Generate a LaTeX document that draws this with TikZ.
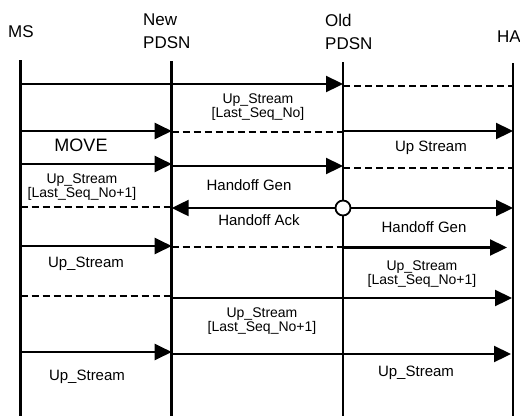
\documentclass[tikz,border=0pt]{standalone}
\usepackage{fontspec}
\setmainfont{Liberation Sans}
\usetikzlibrary{arrows.meta}
\begin{document}
\begin{tikzpicture}[x=1pt,y=-1pt,
 life/.style={line width=2.5pt},
 msg/.style={line width=2.3pt,-{Triangle[length=17pt,width=16pt]}},
 dsh/.style={line width=1.5pt,dash pattern=on 7pt off 4pt},
 lbl/.style={font=\fontsize{15}{15}\selectfont,inner sep=0pt},
 lbltwo/.style={font=\fontsize{14}{14.5}\selectfont,align=center,inner sep=0pt},
 hdr/.style={font=\fontsize{17}{23}\selectfont,align=left,inner sep=0pt},
 junction/.style={circle,draw,fill=white,line width=1.8pt,minimum size=15pt,inner sep=0pt}]
\useasboundingbox (0,0) rectangle (520,416);
% headers
\node[hdr,anchor=west] (hms) at (8,32) {MS};
\node[hdr,anchor=west] (hnew) at (143,31.5) {New\\PDSN};
\node[hdr,anchor=west] (hold) at (325,31.5) {Old\\PDSN};
\node[hdr,anchor=west] (hha) at (497,37) {HA};
% lifelines
\coordinate (msT) at (20.7,60); \coordinate (msB) at (20.7,416);
\coordinate (npT) at (171.7,61); \coordinate (npB) at (171.7,416);
\coordinate (opT) at (343,62); \coordinate (opB) at (343,416);
\coordinate (haT) at (513,63); \coordinate (haB) at (513,416);
\draw[life] (msT) -- (msB);
\draw[life] (npT) -- (npB);
\draw[life] (opT) -- (opB);
\draw[life] (haT) -- (haB);
% row 1
\coordinate (a1) at (20.7,84); \coordinate (c1) at (343,84);
\coordinate (c1d) at (343,86); \coordinate (d1d) at (513,86);
\draw[msg] (a1) -- (c1);
\draw[dsh] (c1d) -- (d1d);
\node[lbltwo] (l1) at (258,107) {Up\_Stream\\{[}Last\_Seq\_No{]}};
% row 2
\coordinate (a2) at (20.7,131); \coordinate (b2) at (171.7,131);
\coordinate (b2d) at (171.7,132); \coordinate (c2d) at (343,132);
\coordinate (c2) at (343,131); \coordinate (d2) at (513,131);
\draw[msg] (a2) -- (b2);
\draw[dsh] (b2d) -- (c2d);
\draw[msg] (c2) -- (d2);
\node[lbl,font=\fontsize{18}{18}\selectfont] (move) at (81,145) {MOVE};
\node[lbl] (l2) at (431,148) {Up Stream};
% row 3
\coordinate (a3) at (20.7,164); \coordinate (b3) at (171.7,164);
\coordinate (b3s) at (171.7,166); \coordinate (c3) at (343,166);
\coordinate (c3d) at (343,168); \coordinate (d3d) at (513,168);
\draw[msg] (a3) -- (b3);
\draw[msg] (b3s) -- (c3);
\draw[dsh] (c3d) -- (d3d);
\node[lbltwo] (l3) at (82,187) {Up\_Stream\\{[}Last\_Seq\_No+1{]}};
\node[lbl] (l3b) at (249,185) {Handoff Gen};
% row 4
\coordinate (a4) at (20.7,207); \coordinate (b4) at (171.7,207);
\coordinate (b4s) at (171.7,208); \coordinate (d4) at (513,208);
\node[junction] (j4) at (343,208) {};
\draw[dsh] (a4) -- (b4);
\draw[msg] (j4) -- (b4s);
\draw[msg] (j4) -- (d4);
\node[lbl] (l4) at (259,220) {Handoff Ack};
\node[lbl] (l4b) at (424,227) {Handoff Gen};
% row 5
\coordinate (a5) at (20.7,246); \coordinate (b5) at (171.7,246);
\coordinate (b5d) at (171.7,247); \coordinate (c5d) at (343,247);
\coordinate (c5) at (343,247.5); \coordinate (d5) at (507,247.5);
\draw[msg] (a5) -- (b5);
\draw[dsh] (b5d) -- (c5d);
\draw[msg] (c5) -- (d5);
\node[lbl] (l5) at (86,264) {Up\_Stream};
\node[lbltwo] (l5b) at (422,274) {Up\_Stream\\{[}Last\_Seq\_No+1{]}};
% row 6
\coordinate (a6) at (20.7,296); \coordinate (b6) at (171.7,296);
\coordinate (b6s) at (171.7,298); \coordinate (d6) at (512,298);
\draw[dsh] (a6) -- (b6);
\draw[msg] (b6s) -- (d6);
\node[lbltwo] (l6) at (262,321) {Up\_Stream\\{[}Last\_Seq\_No+1{]}};
% row 7
\coordinate (a7) at (20.7,352); \coordinate (b7) at (171.7,352);
\coordinate (b7s) at (171.7,354); \coordinate (d7) at (511,354);
\draw[msg] (a7) -- (b7);
\draw[msg] (b7s) -- (d7);
\node[lbl] (l7) at (87,377) {Up\_Stream};
\node[lbl] (l7b) at (416,373) {Up\_Stream};
\end{tikzpicture}
\end{document}
